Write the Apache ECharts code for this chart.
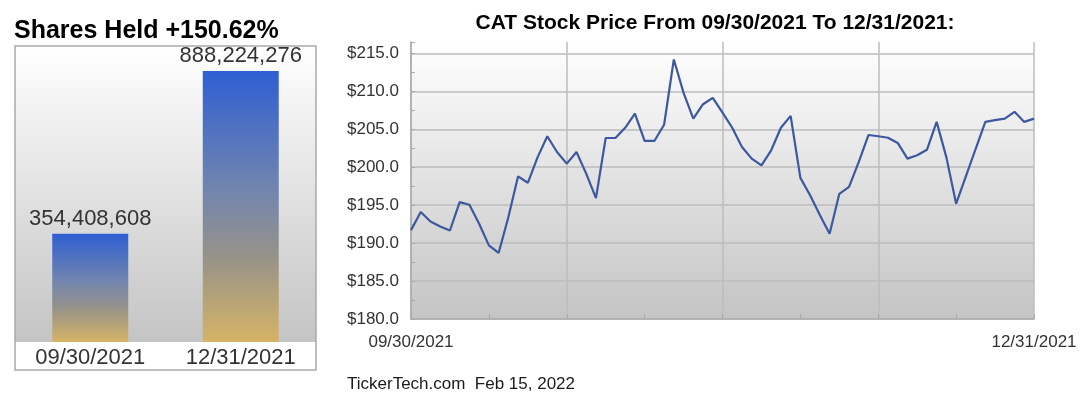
<!DOCTYPE html>
<html>
<head>
<meta charset="utf-8">
<script src="https://cdn.jsdelivr.net/npm/echarts@6/dist/echarts.min.js"></script>
<style>
  html, body { margin: 0; padding: 0; background: #fff; }
  #main { width: 1083px; height: 398px; }
</style>
</head>
<body>
<div id="main"></div>
<script>
// shares held (left panel)
const shareDates = ['09/30/2021', '12/31/2021'];
const sharesHeld = [354408608, 888224276];

// daily close, 09/30/2021 .. 12/31/2021
const priceDates = [
  '09/30/2021',
  '10/01/2021', '10/04/2021', '10/05/2021', '10/06/2021', '10/07/2021', '10/08/2021',
  '10/11/2021', '10/12/2021', '10/13/2021', '10/14/2021', '10/15/2021',
  '10/18/2021', '10/19/2021', '10/20/2021', '10/21/2021', '10/22/2021',
  '10/25/2021', '10/26/2021', '10/27/2021', '10/28/2021', '10/29/2021',
  '11/01/2021', '11/02/2021', '11/03/2021', '11/04/2021', '11/05/2021',
  '11/08/2021', '11/09/2021', '11/10/2021', '11/11/2021', '11/12/2021',
  '11/15/2021', '11/16/2021', '11/17/2021', '11/18/2021', '11/19/2021',
  '11/22/2021', '11/23/2021', '11/24/2021', '11/26/2021',
  '11/29/2021', '11/30/2021',
  '12/01/2021', '12/02/2021', '12/03/2021',
  '12/06/2021', '12/07/2021', '12/08/2021', '12/09/2021', '12/10/2021',
  '12/13/2021', '12/14/2021', '12/15/2021', '12/16/2021', '12/17/2021',
  '12/20/2021', '12/21/2021', '12/22/2021', '12/23/2021',
  '12/27/2021', '12/28/2021', '12/29/2021', '12/30/2021', '12/31/2021'
];
const closePrices = [
  191.7, 194.1, 192.85, 192.2, 191.66, 195.4, 195.05, 192.55, 189.7, 188.7,
  193.4, 198.8, 197.95, 201.3, 204.08, 202.0, 200.47, 202.0, 199.15, 195.93,
  203.85, 203.85, 205.2, 207.07, 203.46, 203.46, 205.6, 214.2, 209.8, 206.41,
  208.3, 209.14, 207.2, 205.2, 202.67, 201.13, 200.25, 202.23, 205.2, 206.76,
  198.6, 196.3, 193.7, 191.23, 196.5, 197.4, 200.7, 204.25, 204.08, 203.88,
  203.2, 201.13, 201.57, 202.3, 205.97, 201.3, 195.19, 198.8, 202.4, 205.97,
  206.2, 206.4, 207.3, 205.97, 206.4
];

const priceMin = 180;
const priceMax = 216.5;
const priceStep = 5;

const FONT = "'Liberation Sans', Arial, sans-serif";

const chart = echarts.init(document.getElementById('main'));

function panelFill() {
  return new echarts.graphic.LinearGradient(0, 0, 0, 1, [
    { offset: 0, color: '#ffffff' },
    { offset: 1, color: '#c4c4c4' }
  ]);
}

chart.setOption({
  animation: false,
  title: [
    {
      text: 'Shares Held +150.62%',
      left: 9, top: 14,
      textStyle: { fontFamily: FONT, fontSize: 25, fontWeight: 'bold', color: '#000' }
    },
    {
      text: 'CAT Stock Price From 09/30/2021 To 12/31/2021:',
      left: 710, top: 8, textAlign: 'center',
      textStyle: { fontFamily: FONT, fontSize: 21, fontWeight: 'bold', color: '#000' }
    },
    {
      text: 'TickerTech.com  Feb 15, 2022',
      left: 342, top: 371,
      textStyle: { fontFamily: FONT, fontSize: 17, fontWeight: 'normal', color: '#1a1a1a' }
    }
  ],
  graphic: [
    {
      type: 'rect', z: 100,
      shape: { x: 15, y: 46, width: 301, height: 324 },
      style: { fill: 'none', stroke: '#a9a9a9', lineWidth: 1.5 }
    }
  ],
  grid: [
    {
      left: 15, top: 46, width: 301, height: 296,
      show: true, borderWidth: 0, backgroundColor: panelFill()
    },
    {
      left: 411, right: 49, top: 42, bottom: 79,
      show: true, borderWidth: 0, backgroundColor: panelFill()
    }
  ],
  xAxis: [
    {
      type: 'category', gridIndex: 0, data: shareDates,
      axisLine: { show: false }, axisTick: { show: false },
      axisLabel: { fontFamily: FONT, fontSize: 22, color: '#333', margin: 5 }
    },
    {
      type: 'category', gridIndex: 1, data: priceDates, boundaryGap: false,
      axisLine: { show: true, lineStyle: { color: '#aaa', width: 1.5 } },
      axisTick: { show: true, inside: true, interval: 7, length: 5, lineStyle: { color: '#aaa' } },
      axisLabel: {
        fontFamily: FONT, fontSize: 17, color: '#333', margin: 15,
        interval: function (idx) { return idx === 0 || idx === priceDates.length - 1; }
      },
      splitLine: { show: true, interval: 15, lineStyle: { color: '#bdbdbd', width: 1.5 } }
    }
  ],
  yAxis: [
    {
      type: 'value', gridIndex: 0, min: 0, max: 970000000, show: false
    },
    {
      type: 'value', gridIndex: 1, min: priceMin, max: priceMax, interval: priceStep,
      axisLine: { show: true, lineStyle: { color: '#aaa', width: 1.5 } },
      axisTick: { show: true, inside: true, length: 4, lineStyle: { color: '#aaa' } },
      minorTick: { show: true, splitNumber: 2, length: 4, lineStyle: { color: '#aaa' } },
      axisLabel: {
        fontFamily: FONT, fontSize: 17, color: '#333', margin: 12, showMaxLabel: false,
        formatter: function (v) { return v % priceStep === 0 ? '$' + v.toFixed(1) : ''; }
      },
      splitLine: { show: true, showMaxLine: false, lineStyle: { color: '#bdbdbd', width: 1.5 } }
    }
  ],
  series: [
    {
      type: 'bar', xAxisIndex: 0, yAxisIndex: 0, data: sharesHeld, barWidth: 76,
      itemStyle: {
        color: new echarts.graphic.LinearGradient(0, 0, 0, 1, [
          { offset: 0, color: '#2e5fd3' },
          { offset: 0.45, color: '#7486ad' },
          { offset: 0.68, color: '#95928a' },
          { offset: 1, color: '#d6b466' }
        ])
      },
      label: {
        show: true, position: 'top', distance: 4,
        fontFamily: FONT, fontSize: 22, color: '#333',
        formatter: function (p) { return p.value.toLocaleString('en-US'); }
      }
    },
    {
      type: 'line', xAxisIndex: 1, yAxisIndex: 1, data: closePrices,
      symbol: 'none', lineStyle: { color: '#3d58a0', width: 2.2 }
    }
  ]
});
</script>
</body>
</html>
